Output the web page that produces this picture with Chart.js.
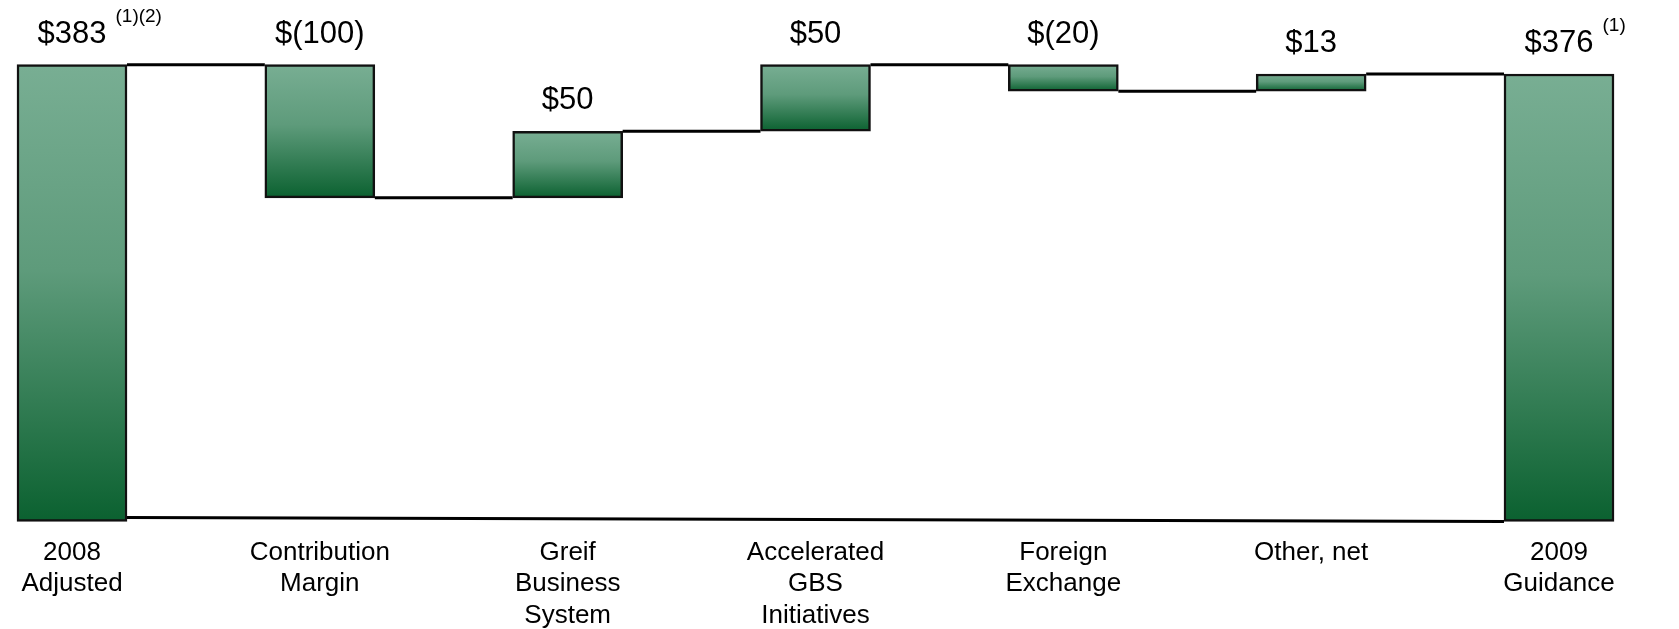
<!DOCTYPE html>
<html>
<head>
<meta charset="utf-8">
<title>2008 to 2009 bridge</title>
<script src="https://cdn.jsdelivr.net/npm/chart.js"></script>
<style>
	html, body { margin: 0; padding: 0; background: #fff; }
	#wrap { position: relative; width: 1679px; height: 629px; }
</style>
</head>
<body>
<div id="wrap"><canvas id="bridgeChart"></canvas></div>
<script>
// data
var categories = [
	['2008', 'Adjusted'],
	['Contribution', 'Margin'],
	['Greif', 'Business', 'System'],
	['Accelerated', 'GBS', 'Initiatives'],
	['Foreign', 'Exchange'],
	['Other, net'],
	['2009', 'Guidance']
];
var changes = [383, -100, 50, 50, -20, 13, 376];
var isTotal = [true, false, false, false, false, false, true];
var footnotes = ['(1)(2)', '', '', '', '', '', '(1)'];

// the slide does not start its bars at zero
var axisFloor = 40;
var axisCeil = 400;

// floating bar ranges for the waterfall: [start, end]
var running = 0;
var ranges = changes.map(function(v, i) {
	if (isTotal[i]) {
		running = v;
		return [axisFloor, v];
	}
	var start = running;
	running += v;
	return [start, running];
});

function money(v) {
	return v < 0 ? '$(' + (-v) + ')' : '$' + v;
}

var FONT = '"Liberation Sans", Arial, sans-serif';

function barFill(context) {
	var chart = context.chart;
	if (!chart.chartArea || context.type !== 'data') return '#4a8d69';
	var r = ranges[context.dataIndex];
	var y = chart.scales.y;
	var top = y.getPixelForValue(Math.max(r[0], r[1]));
	var bot = y.getPixelForValue(Math.min(r[0], r[1]));
	if (!isFinite(top) || !isFinite(bot) || top === bot) return '#4a8d69';
	var g = chart.ctx.createLinearGradient(0, top, 0, bot);
	g.addColorStop(0, '#78ae93');
	g.addColorStop(0.45, '#5e9b7b');
	g.addColorStop(1, '#0b6130');
	return g;
}

// connector lines and value labels
var bridgeDecor = {
	id: 'bridgeDecor',
	beforeDatasetsDraw: function(chart) {
		var bars = chart.getDatasetMeta(0).data;
		var y = chart.scales.y;
		var ctx = chart.ctx;
		ctx.save();
		ctx.strokeStyle = '#000';
		ctx.lineWidth = 3;
		ctx.beginPath();
		for (var i = 0; i < bars.length - 1; i++) {
			var a = bars[i], b = bars[i + 1];
			var level = y.getPixelForValue(ranges[i][1]);
			ctx.moveTo(a.x + a.width / 2, level);
			ctx.lineTo(b.x - b.width / 2, level);
		}
		var first = bars[0], last = bars[bars.length - 1];
		var floor = y.getPixelForValue(axisFloor);
		ctx.moveTo(first.x + first.width / 2, floor - 4);
		ctx.lineTo(last.x - last.width / 2, floor);
		ctx.stroke();
		ctx.restore();
	},
	afterDatasetsDraw: function(chart) {
		var bars = chart.getDatasetMeta(0).data;
		var y = chart.scales.y;
		var ctx = chart.ctx;
		ctx.save();
		ctx.fillStyle = '#000';
		ctx.textBaseline = 'alphabetic';
		bars.forEach(function(bar, i) {
			var top = y.getPixelForValue(Math.max(ranges[i][0], ranges[i][1]));
			var txt = money(changes[i]);
			ctx.font = '31px ' + FONT;
			ctx.textAlign = 'center';
			var ty = top - 22;
			ctx.fillText(txt, bar.x, ty);
			if (footnotes[i]) {
				var w = ctx.measureText(txt).width;
				ctx.font = '19px ' + FONT;
				ctx.textAlign = 'left';
				ctx.fillText(footnotes[i], bar.x + w / 2 + 9, ty - 21);
			}
		});
		ctx.restore();
	}
};

var ctx = document.getElementById('bridgeChart');
var bridgeChart = new Chart(ctx, {
	type: 'bar',
	data: {
		labels: categories,
		datasets: [{
			data: ranges,
			backgroundColor: barFill,
			borderColor: '#111',
			borderWidth: 2.5,
			borderSkipped: false,
			barThickness: 110,
			clip: false
		}]
	},
	options: {
		responsive: true,
		maintainAspectRatio: false,
		animation: false,
		layout: {
			padding: { top: 42, left: 72, right: 120, bottom: -18 }
		},
		scales: {
			x: {
				offset: false,
				grid: { display: false, drawTicks: false },
				border: { display: false },
				ticks: {
					color: '#000',
					padding: 16,
					maxRotation: 0,
					autoSkip: false,
					font: { family: FONT, size: 26, lineHeight: 1.2 }
				}
			},
			y: {
				display: false,
				min: axisFloor,
				max: axisCeil
			}
		},
		plugins: {
			legend: { display: false },
			tooltip: { enabled: false }
		}
	},
	plugins: [bridgeDecor]
});
</script>
</body>
</html>
